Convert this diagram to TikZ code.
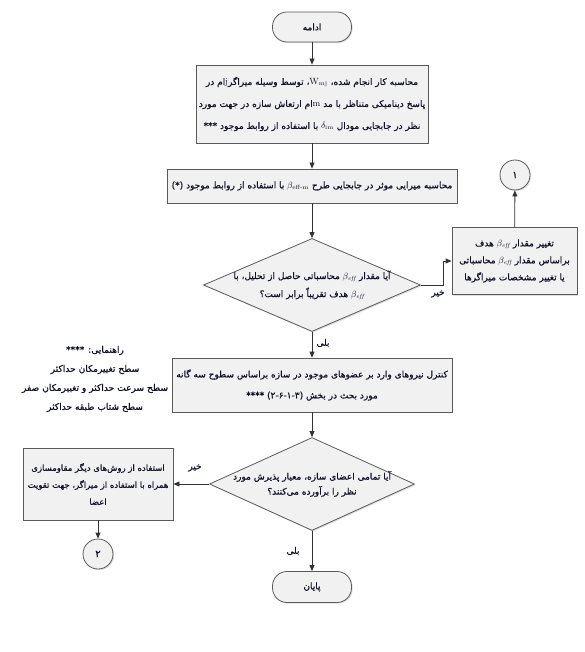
\documentclass[tikz,border=0pt]{standalone}
\usepackage{amsmath}
\usepackage{fontspec}
\newfontfamily\farsi[Script=Arabic,FakeBold=0.6]{DejaVu Sans}
\TeXXeTstate=1
\usetikzlibrary{shapes.geometric,arrows.meta,shadows}
\definecolor{boxgray}{HTML}{F1F1F1}
\definecolor{edgegray}{HTML}{5A5A5A}
\definecolor{inkblue}{HTML}{101028}
\tikzset{chart/.style={draw=edgegray,fill=boxgray,line width=0.8pt,text=inkblue,align=center,inner sep=0pt,
           drop shadow={shadow xshift=1.2pt,shadow yshift=-1.2pt,opacity=0.25}}}
\tikzset{leading/.style={font=\farsi\fontsize{9}{#1}\selectfont}}
\tikzset{process/.style={chart,rectangle},decision/.style={chart,diamond},
         terminal/.style={chart,rectangle,rounded corners=14.5pt,leading=11},
         joint/.style={chart,circle,minimum size=30pt,font=\farsi\fontsize{10}{11}\selectfont},
         tag/.style={text=inkblue,align=center,leading=11},
         flow/.style={draw=black!80,line width=0.8pt,-{Triangle[length=6pt,width=5pt]}}}

\begin{document}
\begin{tikzpicture}[x=1pt,y=-1pt]
\useasboundingbox (0,0) rectangle (585,652);
\node[terminal,minimum width=79pt,minimum height=30pt] (start) at (312,27) {\beginR ادامه\endR};
\node[process,leading=22,minimum width=232pt,minimum height=78pt] (work) at (312,104)
  {\beginR محاسبه کار انجام شده، $\mathrm{W}_{\mathrm{mj}}$، توسط وسیله میراگر$\mathrm{j}$ام در\endR\\
   \beginR پاسخ دینامیکی متناظر با مد $\mathrm{m}$ام ارتعاش سازه در جهت مورد\endR\\
   \beginR نظر در جابجایی مودال $\delta_{\mathrm{im}}$ با استفاده از روابط موجود ***\endR};
\node[process,leading=12,minimum width=290pt,minimum height=34pt] (damping) at (312,186)
  {\beginR محاسبه میرایی موثر در جابجایی طرح $\beta_{\textrm{eff-m}}$ با استفاده از روابط موجود \beginL(*)\endL\endR};
\node[decision,minimum width=217pt,minimum height=93pt,
  label={[tag,leading=18]center:{\beginR آیا مقدار $\beta_{\mathit{eff}}$ محاسباتی حاصل از تحلیل، با\endR\\
   \beginR $\beta_{\mathit{eff}}$ هدف تقریباً برابر است؟\endR}}] (check) at (312,285) {};
\node[process,leading=17,minimum width=125pt,minimum height=67pt] (adjust) at (514.5,261)
  {\beginR تغییر مقدار $\beta_{\mathit{eff}}$ هدف\endR\\
   \beginR براساس مقدار $\beta_{\mathit{eff}}$ محاسباتی\endR\\
   \beginR یا تغییر مشخصات میراگرها\endR};
\node[joint] (one) at (515,175) {۱};
\node[process,leading=21,minimum width=280pt,minimum height=54pt] (members) at (312,385)
  {\beginR کنترل نیروهای وارد بر عضوهای موجود در سازه براساس سطوح سه گانه\endR\\
   \beginR مورد بحث در بخش \beginL(۲-۶-۱-۳)\endL{} ****\endR};
\node[tag,font=\farsi\fontsize{9.1}{19}\selectfont] (guide) at (95,379)
  {\beginR راهنمایی: ****\endR\\
   \beginR سطح تغییرمکان حداکثر\endR\\
   \beginR سطح سرعت حداکثر و تغییرمکان صفر\endR\\
   \beginR سطح شتاب طبقه حداکثر\endR};
\node[decision,minimum width=205pt,minimum height=93pt,
  label={[tag,leading=15]center:{\beginR آیا تمامی اعضای سازه، معیار پذیرش مورد\endR\\
   \beginR نظر را برآورده می‌کنند؟\endR}}] (accept) at (312,484) {};
\node[process,font=\farsi\fontsize{8.5}{17}\selectfont,minimum width=150pt,minimum height=72pt] (retrofit) at (98,484)
  {\beginR استفاده از روش‌های دیگر مقاومسازی\endR\\
   \beginR همراه با استفاده از میراگر، جهت تقویت\endR\\
   \beginR اعضا\endR};
\node[joint] (two) at (98,554) {۲};
\node[terminal,minimum width=79pt,minimum height=31pt] (finish) at (312,587) {\beginR پایان\endR};
\draw[flow] (start) -- (work);
\draw[flow] (work) -- (damping);
\draw[flow] (damping) -- (check);
\draw[flow] (check.east) -- ++(22,0) |- (adjust.west);
\node[tag] (no1) at (438,294) {\beginR خیر\endR};
\draw[flow] (adjust) -- (one);
\draw[flow] (check) -- (members);
\node[tag] (yes1) at (323,343) {\beginR بلی\endR};
\draw[flow] (members) -- (accept);
\draw[flow] (accept) -- (retrofit);
\node[tag] (no2) at (195,468) {\beginR خیر\endR};
\draw[flow] (retrofit) -- (two);
\draw[flow] (accept) -- (finish);
\node[tag] (yes2) at (293,551) {\beginR بلی\endR};
\end{tikzpicture}
\end{document}
